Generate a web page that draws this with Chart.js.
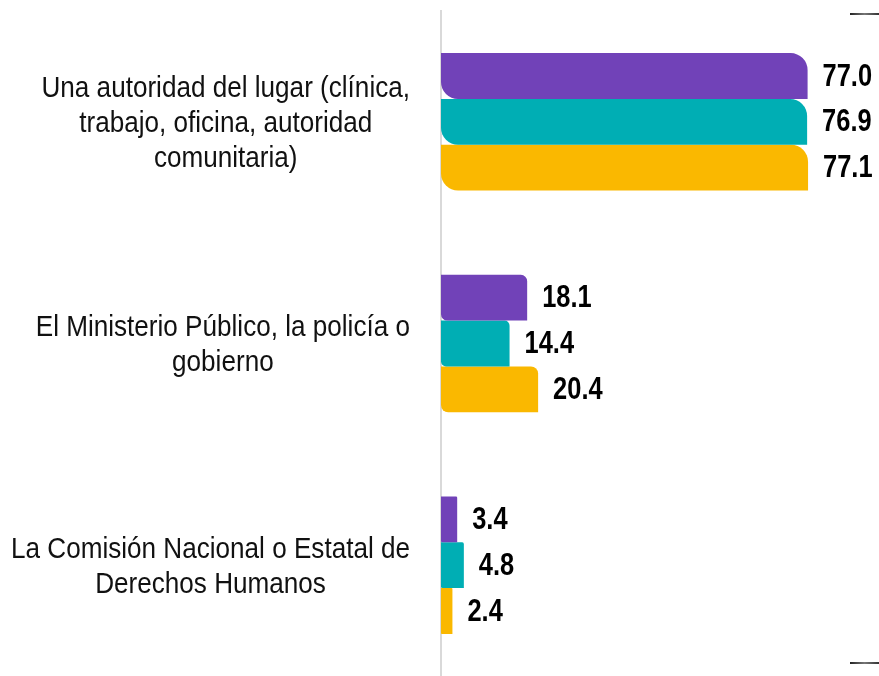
<!DOCTYPE html>
<html lang="es">
<head>
  <meta charset="UTF-8" />
  <title>Autoridad ante la que se denunció</title>
  <script src="https://cdn.jsdelivr.net/npm/chart.js"></script>
  <style>
    html, body {
      margin: 0;
      padding: 0;
      background: #fff;
    }
    #wrap {
      width: 879px;
      height: 676px;
    }
  </style>
</head>
<body>
  <div id="wrap"><canvas id="authChart"></canvas></div>

  <script>
    const categories = [
      ['Una autoridad del lugar (clínica,', 'trabajo, oficina, autoridad', 'comunitaria)'],
      ['El Ministerio Público, la policía o', 'gobierno'],
      ['La Comisión Nacional o Estatal de', 'Derechos Humanos']
    ];
    const seriesA = [77.0, 18.1, 3.4];
    const seriesB = [76.9, 14.4, 4.8];
    const seriesC = [77.1, 20.4, 2.4];
    const seriesColors = ['#7142B8', '#00AEB4', '#FAB800'];

    const baseFont = '"Liberation Sans", Arial, sans-serif';

    // rounded top-right and bottom-left corners, smaller on short bars
    function cornerRadius(ctx) {
      const r = Math.min(17, (ctx.raw || 0) * 0.35);
      return { topLeft: 0, topRight: r, bottomLeft: r, bottomRight: 0 };
    }

    // narrow text: regular face squeezed horizontally
    function narrowText(ctx, text, x, y, sx, align) {
      ctx.save();
      ctx.translate(x, y);
      ctx.scale(sx, 1);
      ctx.textAlign = align;
      ctx.fillText(text, 0, 0);
      ctx.restore();
    }

    // multi-line category names: each block flush right, lines centred in it
    const categoryLabels = {
      id: 'categoryLabels',
      afterDraw(chart) {
        const ctx = chart.ctx;
        const yScale = chart.scales.y;
        const right = yScale.right - 31;
        const sx = 0.9;
        const lineGap = 35;
        ctx.save();
        ctx.font = '29px ' + baseFont;
        ctx.fillStyle = '#111';
        ctx.textBaseline = 'middle';
        chart.data.labels.forEach((lines, i) => {
          const widest = Math.max(...lines.map(l => ctx.measureText(l).width)) * sx;
          const cx = right - widest / 2;
          const mid = yScale.getPixelForTick(i) + 2;
          lines.forEach((line, k) => {
            const y = mid + (k - (lines.length - 1) / 2) * lineGap;
            narrowText(ctx, line, cx, y, sx, 'center');
          });
        });
        ctx.restore();
      }
    };

    // value printed just past the end of each bar
    const valueLabels = {
      id: 'valueLabels',
      afterDatasetsDraw(chart) {
        const ctx = chart.ctx;
        ctx.save();
        ctx.font = 'bold 31px ' + baseFont;
        ctx.fillStyle = '#000';
        ctx.textBaseline = 'middle';
        chart.data.datasets.forEach((ds, i) => {
          chart.getDatasetMeta(i).data.forEach((bar, j) => {
            narrowText(ctx, ds.data[j].toFixed(1), bar.x + 15, bar.y + 1, 0.82, 'left');
          });
        });
        ctx.restore();
      }
    };

    // short dark strokes at the right edge, top and bottom
    const edgeMarks = {
      id: 'edgeMarks',
      afterDraw(chart) {
        const ctx = chart.ctx;
        const w = chart.width;
        ctx.save();
        ctx.lineWidth = 2;
        [14, 663].forEach(y => {
          const g = ctx.createLinearGradient(w - 29, 0, w, 0);
          g.addColorStop(0, '#222');
          g.addColorStop(0.5, '#777');
          g.addColorStop(1, '#333');
          ctx.strokeStyle = g;
          ctx.beginPath();
          ctx.moveTo(w - 29, y);
          ctx.lineTo(w, y);
          ctx.stroke();
        });
        ctx.restore();
      }
    };

    const ds = (data, color) => ({
      data: data,
      backgroundColor: color,
      borderWidth: 0,
      borderSkipped: false,
      borderRadius: cornerRadius,
      barPercentage: 1,
      categoryPercentage: 0.62
    });

    new Chart(document.getElementById('authChart'), {
      type: 'bar',
      data: {
        labels: categories,
        datasets: [
          ds(seriesA, seriesColors[0]),
          ds(seriesB, seriesColors[1]),
          ds(seriesC, seriesColors[2])
        ]
      },
      options: {
        indexAxis: 'y',
        responsive: true,
        maintainAspectRatio: false,
        animation: false,
        layout: { padding: { top: 11, right: 0, bottom: 0, left: 0 } },
        plugins: {
          legend: { display: false },
          tooltip: { enabled: false }
        },
        scales: {
          x: {
            display: false,
            min: 0,
            max: 92
          },
          y: {
            afterFit(scale) {
              scale.width = 441;
              scale.paddingTop = 0;
              scale.paddingBottom = 0;
            },
            grid: { display: false, drawTicks: false },
            border: { display: true, color: '#d9d9d9', width: 2 },
            ticks: { display: false }
          }
        }
      },
      plugins: [valueLabels, categoryLabels, edgeMarks]
    });
  </script>
</body>
</html>
